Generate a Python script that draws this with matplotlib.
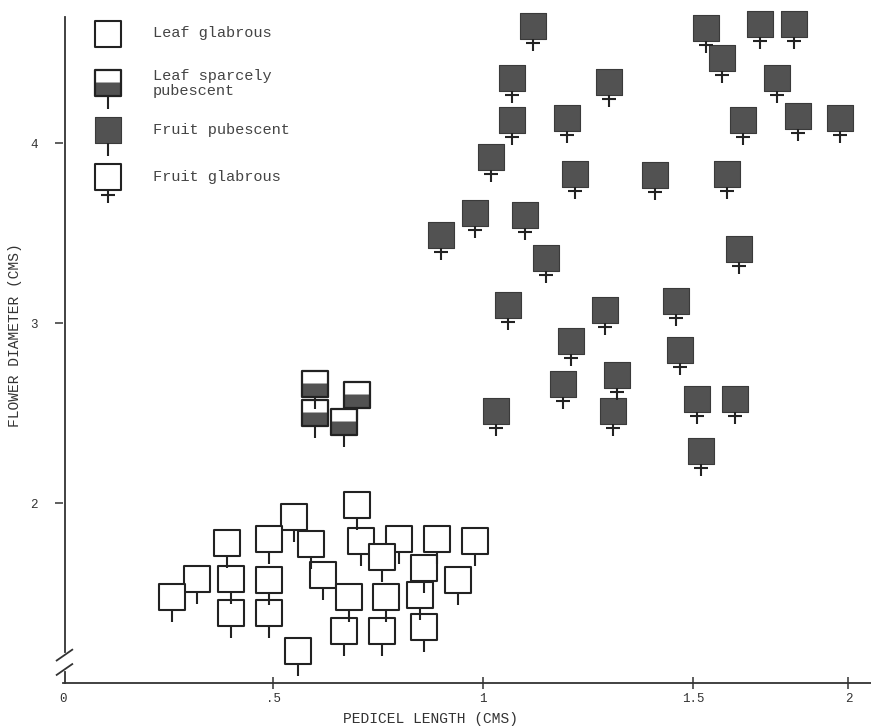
import matplotlib
matplotlib.use("Agg")
import matplotlib.pyplot as plt
from matplotlib.path import Path

# ---------------- data ----------------
# dark (pubescent) squares with crossed tail
dark_x = [1.12, 1.53, 1.66, 1.74, 1.57, 1.07, 1.30, 1.70, 1.07, 1.20, 1.62, 1.75, 1.85,
          1.02, 1.22, 1.41, 1.58, 0.98, 1.10, 0.90, 1.61, 1.15, 1.46, 1.06, 1.29,
          1.21, 1.47, 1.32, 1.19, 1.51, 1.60, 1.31, 1.03, 1.52]
dark_y = [4.65, 4.64, 4.66, 4.66, 4.47, 4.36, 4.34, 4.36, 4.13, 4.14, 4.13, 4.15, 4.14,
          3.92, 3.83, 3.82, 3.83, 3.61, 3.60, 3.49, 3.41, 3.36, 3.12, 3.10, 3.07,
          2.90, 2.85, 2.71, 2.66, 2.58, 2.58, 2.51, 2.51, 2.29]

# half filled squares (leaf sparsely pubescent), plain tail
half_x = [0.60, 0.70, 0.60, 0.67]
half_y = [2.66, 2.60, 2.50, 2.45]

# open squares (leaf glabrous), plain tail
open_x = [0.70, 0.55, 0.39, 0.49, 0.59, 0.71, 0.80, 0.89, 0.98, 0.76, 0.86, 0.32, 0.40,
          0.49, 0.62, 0.94, 0.85, 0.26, 0.68, 0.77, 0.40, 0.49, 0.86, 0.67, 0.76, 0.56]
open_y = [1.99, 1.92, 1.78, 1.80, 1.77, 1.79, 1.80, 1.80, 1.79, 1.70, 1.64, 1.58, 1.58,
          1.57, 1.60, 1.57, 1.49, 1.48, 1.48, 1.48, 1.39, 1.39, 1.31, 1.29, 1.29, 1.18]

x_ticks = [0, 0.5, 1, 1.5, 1.87]
x_tick_labels = ["0", ".5", "1", "1.5", "2"]
y_ticks = [2, 3, 4]
y_tick_labels = ["2", "3", "4"]

legend_labels = ["Leaf glabrous", "Leaf sparcely", "pubescent", "Fruit pubescent", "Fruit glabrous"]

# ---------------- glyph paths ----------------
B = 1.0  # normalisation vertex
M, L, C = Path.MOVETO, Path.LINETO, Path.CLOSEPOLY

def mk(verts, codes):
    return Path([(0, B)] + verts, [M] + codes)

sq = mk([(-.5, -.5), (.5, -.5), (.5, .5), (-.5, .5), (-.5, -.5)], [M, L, L, L, C])
lower = mk([(-.5, -.5), (.5, -.5), (.5, 0.02), (-.5, 0.02), (-.5, -.5)], [M, L, L, L, C])
tail = mk([(0, -.5), (0, -.98)], [M, L])
ctail = mk([(0, -.5), (0, -.98), (-.27, -.68), (.27, -.68)], [M, L, M, L])

DARK = "#525252"
MS = 37
FONT = ["Liberation Mono", "DejaVu Sans Mono"]

fig = plt.figure(figsize=(8.71, 7.27), dpi=100)
W, H = 871, 727
x0px, y0px, ytop = 63, 683, 17
ax = fig.add_axes([x0px / W, (H - y0px) / H, (W - x0px) / W, (y0px - ytop) / H])
xmax = (W - x0px) / 420
ymax = 1 + (y0px - ytop) / 180
ax.set_xlim(0, xmax)
ax.set_ylim(1, ymax)

def glyphs(x, y, kind, ms=MS, **kw):
    kw.setdefault("clip_on", False)
    if kind == "open":
        ax.plot(x, y, ls="none", marker=sq, ms=ms, mfc="white", mec="#222222", mew=1.5, **kw)
        ax.plot(x, y, ls="none", marker=tail, ms=ms, mfc="none", mec="#222222", mew=1.5, **kw)
    elif kind == "half":
        ax.plot(x, y, ls="none", marker=sq, ms=ms, mfc="white", mec="none", **kw)
        ax.plot(x, y, ls="none", marker=lower, ms=ms, mfc=DARK, mec="none", **kw)
        ax.plot(x, y, ls="none", marker=sq, ms=ms, mfc="none", mec="#222222", mew=1.6, **kw)
        ax.plot(x, y, ls="none", marker=tail, ms=ms, mfc="none", mec="#222222", mew=1.5, **kw)
    elif kind == "dark":
        ax.plot(x, y, ls="none", marker=sq, ms=ms, mfc=DARK, mec="#3a3a3a", mew=0.8, **kw)
        ax.plot(x, y, ls="none", marker=tail, ms=ms, mfc="none", mec="#222222", mew=1.5, **kw)
    elif kind == "darkcross":
        ax.plot(x, y, ls="none", marker=sq, ms=ms, mfc=DARK, mec="#3a3a3a", mew=0.8, **kw)
        ax.plot(x, y, ls="none", marker=ctail, ms=ms, mfc="none", mec="#222222", mew=1.5, **kw)
    elif kind == "opencross":
        ax.plot(x, y, ls="none", marker=sq, ms=ms, mfc="white", mec="#222222", mew=1.5, **kw)
        ax.plot(x, y, ls="none", marker=ctail, ms=ms, mfc="none", mec="#222222", mew=1.5, **kw)
    elif kind == "plain":
        ax.plot(x, y, ls="none", marker=sq, ms=ms, mfc="white", mec="#222222", mew=1.5, **kw)

glyphs(open_x, open_y, "open")
glyphs(half_x, half_y, "half")
glyphs(dark_x, dark_y, "darkcross")

# ---------------- axes ----------------
for s in ["top", "right", "left"]:
    ax.spines[s].set_visible(False)
ax.spines["bottom"].set_color("#333333")
ax.spines["bottom"].set_linewidth(1.3)

axis_kw = dict(color="#333333", lw=1.3, clip_on=False)
ax.plot([0.005, 0.005], [1.17, ymax], **axis_kw)
ax.plot([0.005, 0.005], [1.0, 1.06], **axis_kw)
ax.plot([-0.015, 0.022], [1.125, 1.185], **axis_kw)
ax.plot([-0.015, 0.022], [1.045, 1.105], **axis_kw)

ax.set_xticks(x_ticks)
ax.set_xticklabels(x_tick_labels)
ax.set_yticks(y_ticks)
ax.set_yticklabels(y_tick_labels)
ax.tick_params(axis="x", direction="inout", length=9, width=1.1, color="#333333",
               labelsize=9, labelcolor="#333333", pad=3)
ax.tick_params(axis="y", direction="out", length=6, width=1.1, color="#333333",
               labelsize=9, labelcolor="#333333", pad=12)
for lab in ax.get_xticklabels() + ax.get_yticklabels():
    lab.set_fontfamily(FONT)
ax.xaxis.get_major_ticks()[0].tick1line.set_visible(False)

ax.set_xlabel("PEDICEL LENGTH (CMS)", family=FONT, fontsize=10.5, color="#333333")
ax.xaxis.set_label_coords((430 - x0px) / (W - x0px), -(712 - y0px) / (y0px - ytop))
ax.set_ylabel("FLOWER DIAMETER (CMS)", family=FONT, fontsize=10.5, color="#333333")
ax.yaxis.set_label_coords(-(x0px - 22) / (W - x0px), (y0px - 335) / (y0px - ytop))

# ---------------- legend ----------------
def axf(px, py):
    return (px - x0px) / (W - x0px), (y0px - py) / (y0px - ytop)

gx = 108
leg_glyphs = [("plain", 34), ("half", 83), ("dark", 130), ("opencross", 177)]
for kind, py in leg_glyphs:
    xa, ya = axf(gx, py)
    glyphs([xa], [ya], kind, ms=38, transform=ax.transAxes)

leg_text_pos = [33, 76, 91, 130, 177]
for lab, py in zip(legend_labels, leg_text_pos):
    xa, ya = axf(153, py)
    ax.text(xa, ya, lab, transform=ax.transAxes, family=FONT, fontsize=11,
            color="#444444", va="center", ha="left")

fig.savefig("out.png", dpi=100, facecolor="white")
